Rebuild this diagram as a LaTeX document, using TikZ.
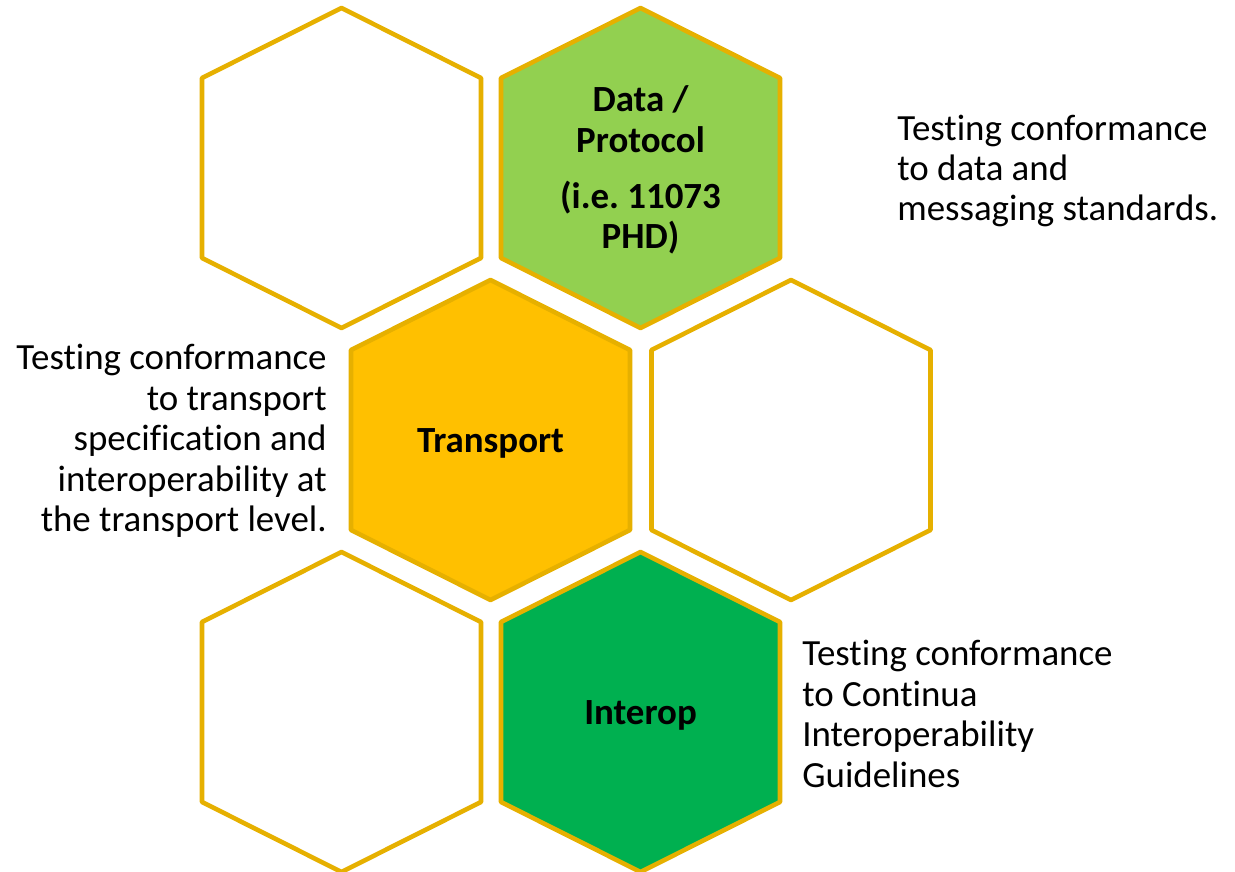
\documentclass[tikz,border=0pt]{standalone}
\usepackage{fontspec}
\setmainfont[Ligatures={NoCommon}]{Carlito}
\usepackage{tikz}
\definecolor{hexgold}{HTML}{E6B000}
\definecolor{datagreen}{HTML}{92D050}
\definecolor{transgold}{HTML}{FFC000}
\definecolor{interopgreen}{HTML}{00B050}
\newcommand{\hexcell}[3]{%
	\draw [hexedge, fill=#3] (#1,#2) ++(0,-160) -- ++(139.5,70) -- ++(0,180)
		-- ++(-139.5,70) -- ++(-139.5,-70) -- ++(0,-180) -- cycle;}

\begin{document}
\begin{tikzpicture}[x=0.02cm, y=-0.02cm,
		hexedge/.style={draw=hexgold, line width=2.6pt, line join=round},
		hexlabel/.style={font=\fontsize{21}{23}\selectfont\bfseries, align=center},
		sidenote/.style={font=\fontsize{21}{23}\selectfont, inner sep=0pt}]
	\useasboundingbox (0,0) rectangle (1235,872);
		\hexcell{341.5}{168}{white}
		\hexcell{640.5}{168}{datagreen}
		\hexcell{490.5}{440}{transgold}
		\hexcell{791}{440}{white}
		\hexcell{341.5}{712}{white}
		\hexcell{640.5}{712}{interopgreen}
		\node [hexlabel] (DP) at (640.5,170) 
			{Data /\\Protocol\\[9pt](i.e.\ 11073\\PHD)};
		\node [hexlabel] (TR) at (490.5,443) 
			{Transport};
		\node [hexlabel] (IO) at (640.5,715) 
			{Interop};
		\node [sidenote, anchor=west, align=left] (DPnote) at (897,171) 
			{Testing conformance\\to data and\\messaging standards.};
		\node [sidenote, anchor=east, align=right] (TRnote) at (327,441) 
			{Testing conformance\\to transport\\specification and\\interoperability at\\the transport level.};
		\node [sidenote, anchor=west, align=left] (IOnote) at (802,714) 
			{Testing conformance\\to Continua\\Interoperability\\Guidelines};
	\end{tikzpicture}
\end{document}
